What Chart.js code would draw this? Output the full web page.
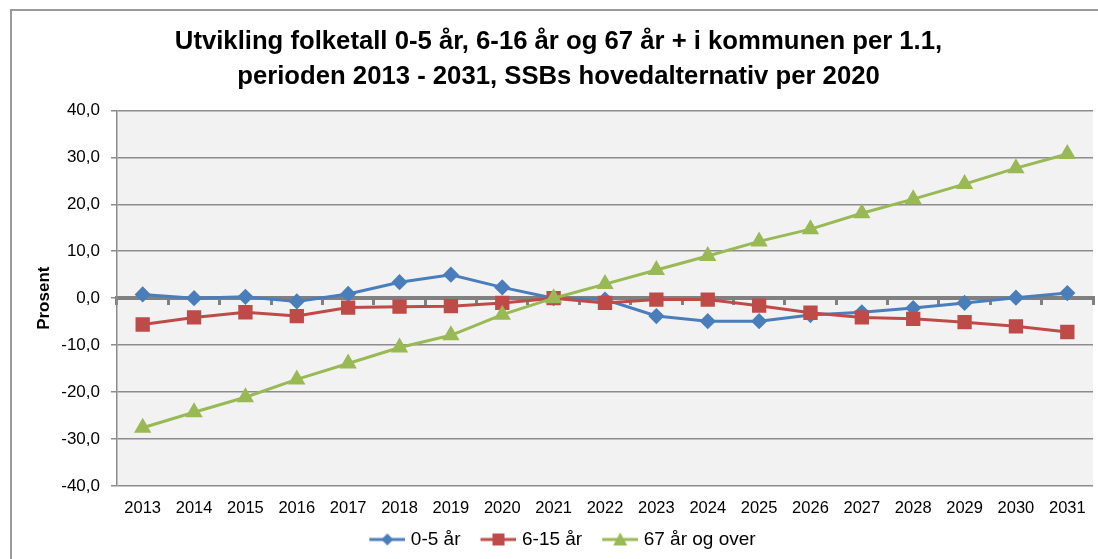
<!DOCTYPE html>
<html lang="no">
<head>
<meta charset="UTF-8">
<title>Utvikling folketall</title>
<script src="https://cdn.jsdelivr.net/npm/chart.js"></script>
<style>
    body { margin: 0; background: #fff; }
    #wrap { position: relative; width: 1098px; height: 559px; overflow: hidden; }
    #frame { position: absolute; left: 10px; top: 9px; width: 1200px; height: 700px;
             border-left: 2px solid #9a9a9a; border-top: 2px solid #9a9a9a; pointer-events: none; }
</style>
</head>
<body>
<div id="wrap">
    <canvas id="chart" width="1104" height="559"></canvas>
    <div id="frame"></div>
</div>
<script>
const years = ['2013','2014','2015','2016','2017','2018','2019','2020','2021','2022',
               '2023','2024','2025','2026','2027','2028','2029','2030','2031'];
const age0to5 = [0.8, 0.0, 0.3, -0.7, 0.9, 3.4, 5.0, 2.3, 0.0, -0.3,
                 -3.8, -4.9, -4.9, -3.6, -3.0, -2.1, -1.0, 0.1, 1.1];
const age6to15 = [-5.6, -4.1, -3.0, -3.8, -2.0, -1.8, -1.7, -1.0, 0.0, -1.0,
                  -0.3, -0.3, -1.6, -3.1, -4.1, -4.4, -5.1, -6.0, -7.2];
const age67plus = [-27.6, -24.3, -21.1, -17.3, -13.9, -10.5, -7.9, -3.5, 0.0, 3.0,
                   6.0, 9.0, 12.1, 14.7, 18.1, 21.1, 24.3, 27.7, 30.7];
const seriesNames = ['0-5 år', '6-15 år', '67 år og over'];
const titleLines = ['Utvikling folketall 0-5 år, 6-16 år og 67 år + i kommunen per 1.1,',
                    'perioden 2013 - 2031, SSBs hovedalternativ per 2020'];

const BLUE = '#4a7ebb', RED = '#be4b48', GREEN = '#98b954';
const font = "'Liberation Sans', Arial, sans-serif";

// legend symbol: short line with the marker in the middle (left part left empty as spacing)
function legendIcon(color, style) {
    const c = document.createElement('canvas');
    c.width = 48; c.height = 16;
    const g = c.getContext('2d');
    g.strokeStyle = color; g.fillStyle = color; g.lineWidth = 3;
    g.beginPath(); g.moveTo(12, 8); g.lineTo(48, 8); g.stroke();
    g.beginPath();
    if (style === 'diamond') {
        g.moveTo(30, 2); g.lineTo(36, 8); g.lineTo(30, 14); g.lineTo(24, 8);
    } else if (style === 'square') {
        g.rect(24, 2, 12, 12);
    } else {
        g.moveTo(30, 1); g.lineTo(37, 14); g.lineTo(23, 14);
    }
    g.closePath(); g.fill();
    return c;
}
const icons = [legendIcon(BLUE, 'diamond'), legendIcon(RED, 'square'), legendIcon(GREEN, 'triangle')];

const plotBg = {
    id: 'plotBg',
    beforeDraw(chart) {
        const a = chart.chartArea, ctx = chart.ctx;
        ctx.save();
        ctx.fillStyle = '#f2f2f2';
        ctx.fillRect(a.left, a.top, a.right - a.left, a.bottom - a.top);
        ctx.restore();
    }
};

new Chart(document.getElementById('chart'), {
    type: 'line',
    data: {
        labels: years,
        datasets: [
            { label: seriesNames[0], data: age0to5, borderColor: BLUE, backgroundColor: BLUE,
              pointStyle: 'rectRot', pointRadius: 6, borderWidth: 3, order: 3 },
            { label: seriesNames[1], data: age6to15, borderColor: RED, backgroundColor: RED,
              pointStyle: 'rect', pointRadius: 8, borderWidth: 3, order: 2 },
            { label: seriesNames[2], data: age67plus, borderColor: GREEN, backgroundColor: GREEN,
              pointStyle: 'triangle', pointRadius: 7, borderWidth: 3, order: 1 }
        ]
    },
    options: {
        responsive: false,
        animation: false,
        layout: { padding: { left: 14, right: 1, top: 0, bottom: 0 } },
        elements: { line: { tension: 0 }, point: { borderWidth: 1 } },
        plugins: {
            title: {
                display: true,
                text: titleLines,
                color: '#000',
                font: { family: font, size: 25.7, weight: 'bold', lineHeight: 1.35 },
                padding: { top: 25, bottom: 16 }
            },
            legend: {
                position: 'bottom',
                labels: {
                    color: '#000',
                    font: { family: font, size: 19 },
                    usePointStyle: true,
                    pointStyleWidth: 40,
                    padding: 12,
                    generateLabels(chart) {
                        return chart.data.datasets.map((ds, i) => ({
                            text: ds.label, pointStyle: icons[i], fontColor: '#000',
                            lineWidth: 0, datasetIndex: i, hidden: false
                        }));
                    }
                }
            },
            tooltip: { enabled: false }
        },
        scales: {
            x: {
                offset: true,
                grid: { display: false },
                border: { display: false },
                ticks: { color: '#000', font: { family: font, size: 16.5 }, maxRotation: 0, autoSkip: false, padding: 5 },
                afterFit(scale) { scale.height = 32; }
            },
            x0: {
                type: 'category',
                position: { y: 0 },
                offset: true,
                grid: { drawOnChartArea: false, offset: true, tickLength: 5, color: '#808080', lineWidth: 3 },
                border: { display: true, color: '#808080', width: 4 },
                ticks: { display: false }
            },
            y: {
                min: -40, max: 40,
                ticks: {
                    stepSize: 10, color: '#000', font: { family: font, size: 17 }, padding: 11,
                    callback: v => v.toFixed(1).replace('.', ',')
                },
                grid: { color: '#8c8c8c', lineWidth: 1.5, tickLength: 6 },
                border: { color: '#8c8c8c', width: 1.5 },
                title: { display: true, text: 'Prosent', color: '#000',
                         font: { family: font, size: 17, weight: 'bold' }, padding: { top: 20, bottom: 0 } },
                afterFit(scale) { scale.width = 103; }
            }
        }
    },
    plugins: [plotBg]
});
</script>
</body>
</html>
